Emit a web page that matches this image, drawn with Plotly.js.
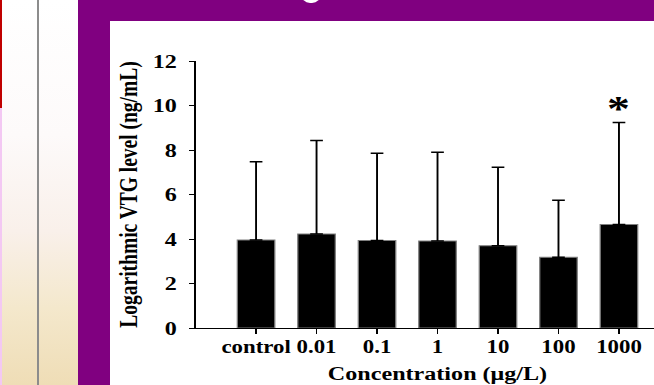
<!DOCTYPE html>
<html>
<head>
<meta charset="utf-8">
<script src="https://cdn.plot.ly/plotly-3.0.1.min.js"></script>
<style>
  html, body { margin:0; padding:0; width:654px; height:385px; overflow:hidden; background:#ffffff; }
  #strip { position:absolute; left:0; top:0; width:78px; height:385px;
           background:linear-gradient(to bottom, #ffffff 0%, #fdfafa 35%, #f9f0ea 60%, #f4e8cc 80%, #efddb6 100%); }
  #redbar { position:absolute; left:0; top:0; width:2px; height:108px; background:#c00000; }
  #pinkbar { position:absolute; left:0; top:108px; width:2px; height:277px; background:#f3c8f3; }
  #grayline { position:absolute; left:37px; top:0; width:2px; height:385px; background:#8c8c8c; }
  #purple { position:absolute; left:78px; top:0; width:576px; height:385px; background:#800080; }
  #panel { position:absolute; left:110px; top:21px; width:544px; height:364px; background:#ffffff; }
  #frag { position:absolute; left:301px; top:-6px; width:20px; height:9px; border-radius:0 0 10px 10px; background:#ffffff; }
  #chart { position:absolute; left:0; top:0; width:540px; height:385px; transform:scaleX(1.27); transform-origin:0 0; }
</style>
</head>
<body>
<div id="strip"></div>
<div id="redbar"></div>
<div id="pinkbar"></div>
<div id="grayline"></div>
<div id="purple"></div>
<div id="frag"></div>
<div id="panel"></div>
<div id="chart"></div>
<script>
const categories = ['control', '0.01', '0.1', '1', '10', '100', '1000'];
const meanValues = [3.96, 4.23, 3.93, 3.91, 3.70, 3.18, 4.65];
const errorPlus = [3.51, 4.20, 3.92, 3.99, 3.53, 2.56, 4.59];
const yTickValues = [0, 2, 4, 6, 8, 10, 12];
const significantCategory = '1000';
const significantY = 9.85;

const serif = 'Liberation Serif, Times New Roman, serif';

const trace = {
  type: 'bar',
  x: categories,
  y: meanValues,
  width: 0.62,
  marker: { color: '#000000', line: { color: '#7f7f7f', width: 1 } },
  error_y: { type: 'data', symmetric: false, array: errorPlus, arrayminus: errorPlus.map(() => 0),
             color: '#000000', thickness: 1.5, width: 5 },
  hoverinfo: 'skip'
};

const layout = {
  width: 540, height: 385,
  margin: { l: 154, r: 5, t: 61, b: 57 },
  paper_bgcolor: 'rgba(0,0,0,0)',
  plot_bgcolor: 'rgba(0,0,0,0)',
  showlegend: false,
  xaxis: {
    type: 'category',
    range: [-1, 7],
    showgrid: false, zeroline: false,
    showline: true, linecolor: '#000000', linewidth: 1,
    ticks: 'outside', ticklen: 5, tickcolor: '#000000',
    ticklabelstandoff: -3,
    tickfont: { family: serif, size: 18, color: '#000000', weight: 'bold' },
    title: { text: 'Concentration (μg/L)', font: { family: serif, size: 19, color: '#000000', weight: 'bold' }, standoff: 11 }
  },
  yaxis: {
    range: [0, 12],
    tickvals: yTickValues,
    showgrid: false, zeroline: false,
    showline: true, linecolor: '#000000', linewidth: 1,
    ticks: 'outside', ticklen: 4, tickcolor: '#000000',
    ticklabelstandoff: 6,
    tickfont: { family: serif, size: 19, color: '#000000', weight: 'bold' },
    title: { text: 'Logarithmic VTG level (ng/mL)', font: { family: serif, size: 19.5, color: '#000000', weight: 'bold' }, standoff: 6 }
  },
  annotations: [{
    x: categories.indexOf(significantCategory), y: significantY, xref: 'x', yref: 'y',
    text: '*', showarrow: false, yanchor: 'middle',
    font: { family: serif, size: 36, color: '#000000', weight: 'bold' }
  }]
};

Plotly.newPlot('chart', [trace], layout, { displayModeBar: false, staticPlot: true });
</script>
</body>
</html>
